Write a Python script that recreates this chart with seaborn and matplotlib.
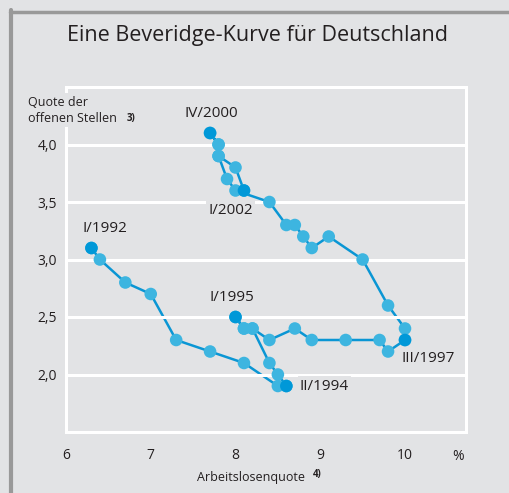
import matplotlib
matplotlib.use("Agg")
import matplotlib.pyplot as plt
from matplotlib.lines import Line2D
import seaborn as sns
import pandas as pd

# ---- data (path in chronological drawing order) ----
path_x = [6.3, 6.4, 6.7, 7.0, 7.3, 7.7, 8.1, 8.5, 8.6, 8.5, 8.4, 8.2, 8.1, 8.0,
          8.1, 8.2, 8.4, 8.7, 8.9, 9.3, 9.7, 9.8, 10.0, 10.0, 9.8, 9.5, 9.1,
          8.9, 8.8, 8.7, 8.6, 8.4, 8.0, 7.9, 7.8, 7.8, 7.7, 7.8, 7.8, 8.0, 8.1]
path_y = [3.1, 3.0, 2.8, 2.7, 2.3, 2.2, 2.1, 1.9, 1.9, 2.0, 2.1, 2.4, 2.4, 2.5,
          2.4, 2.4, 2.3, 2.4, 2.3, 2.3, 2.3, 2.2, 2.3, 2.4, 2.6, 3.0, 3.2,
          3.1, 3.2, 3.3, 3.3, 3.5, 3.6, 3.7, 3.9, 4.0, 4.1, 4.0, 3.9, 3.8, 3.6]

key_labels = ["I/1992", "II/1994", "I/1995", "III/1997", "IV/2000", "I/2002"]
key_x = [6.3, 8.6, 8.0, 10.0, 7.7, 8.1]
key_y = [3.1, 1.9, 2.5, 2.3, 4.1, 3.6]

x_ticks = [6, 7, 8, 9, 10]
x_ticklabels = ["6", "7", "8", "9", "10"]
y_ticks = [2.0, 2.5, 3.0, 3.5, 4.0]
y_ticklabels = ["2,0", "2,5", "3,0", "3,5", "4,0"]

title = "Eine Beveridge-Kurve für Deutschland"
ylabel = "Quote der\noffenen Stellen"
xlabel = "Arbeitslosenquote"

# ---- style ----
BG = "#e2e3e5"
TXT = "#231f20"
LINE = "#0a96d4"
LIGHT = "#3db5e0"
DARK = "#0098d8"

sns.set_style("white")
plt.rcParams["font.family"] = ["Open Sans", "DejaVu Sans"]
plt.rcParams["text.color"] = TXT

fig = plt.figure(figsize=(5.1, 4.93), dpi=100, facecolor=BG)
W, H = 510, 493
ax = fig.add_axes([66 / W, 1 - 432 / H, 400 / W, 345 / H], facecolor=BG)

df = pd.DataFrame({"x": path_x, "y": path_y})
keys = pd.DataFrame({"x": key_x, "y": key_y, "label": key_labels})

sns.lineplot(data=df, x="x", y="y", sort=False, estimator=None, ax=ax,
             color=LINE, linewidth=1.8, zorder=1.5)
for v in y_ticks:
    ax.axhline(v, color="white", lw=2.2, zorder=2)
sns.scatterplot(data=df, x="x", y="y", ax=ax, color=LIGHT, s=82,
                edgecolor="none", linewidth=0, zorder=3)
sns.scatterplot(data=keys, x="x", y="y", ax=ax, color=DARK, s=82,
                edgecolor="none", linewidth=0, zorder=3.5)

# key labels
label_pos = {
    "I/1992": (6.46, 3.27, "center"),
    "IV/2000": (7.71, 4.27, "center"),
    "I/2002": (7.94, 3.43, "center"),
    "I/1995": (7.96, 2.67, "center"),
    "II/1994": (8.76, 1.90, "left"),
    "III/1997": (9.96, 2.14, "left"),
}
for lab in key_labels:
    lx, ly, ha = label_pos[lab]
    ax.text(lx, ly, lab, ha=ha, va="center", fontsize=11, color=TXT,
            zorder=2.5,
            bbox=dict(facecolor=BG, edgecolor="none", pad=1.5))

ax.set_xlim(6.0, 6.0 + 400 / 84.75)
ax.set_ylim(1.5, 4.5)
ax.set_xlabel("")
ax.set_ylabel("")

for s in ax.spines.values():
    s.set_color("white")
    s.set_linewidth(2.2)
    s.set_visible(True)

ax.set_xticks(x_ticks)
ax.set_xticklabels(x_ticklabels)
ax.set_yticks(y_ticks)
ax.set_yticklabels(y_ticklabels)
ax.tick_params(axis="x", direction="inout", length=17, width=2.2,
               color="white", labelsize=10, labelcolor=TXT, pad=3)
ax.tick_params(axis="y", length=0, labelsize=10, labelcolor=TXT, pad=6.5)

# percent sign at end of x axis
ax.text(10.63, -0.07, "%", transform=ax.get_xaxis_transform(),
        ha="center", va="center", fontsize=10, color=TXT)

# axis titles
fig.text(28 / W, 1 - 110 / H, ylabel, ha="left", va="center", fontsize=9,
         color=TXT, linespacing=1.3, zorder=5,
         bbox=dict(facecolor=BG, edgecolor="none", pad=2))
fig.text(127 / W, 1 - 118 / H, "3)", ha="left", va="center", fontsize=7,
         fontweight="bold", color=TXT, zorder=6)
fig.text(251 / W, 1 - 477 / H, xlabel, ha="center", va="center", fontsize=9,
         color=TXT)
fig.text(313 / W, 1 - 475 / H, "4)", ha="left", va="center", fontsize=7,
         fontweight="bold", color=TXT)

# title
fig.text(258 / W, 1 - 35 / H, title, ha="center", va="center", fontsize=15.5,
         color=TXT)

# grey frame (left bar + top rule)
fig.add_artist(Line2D([11.5 / W, 11.5 / W], [0, 1 - 10 / H],
                      color="#999999", lw=3, transform=fig.transFigure))
fig.add_artist(Line2D([10 / W, 1], [1 - 11.5 / H, 1 - 11.5 / H],
                      color="#999999", lw=2.5, transform=fig.transFigure))

fig.savefig("out.png", dpi=100, facecolor=BG)
